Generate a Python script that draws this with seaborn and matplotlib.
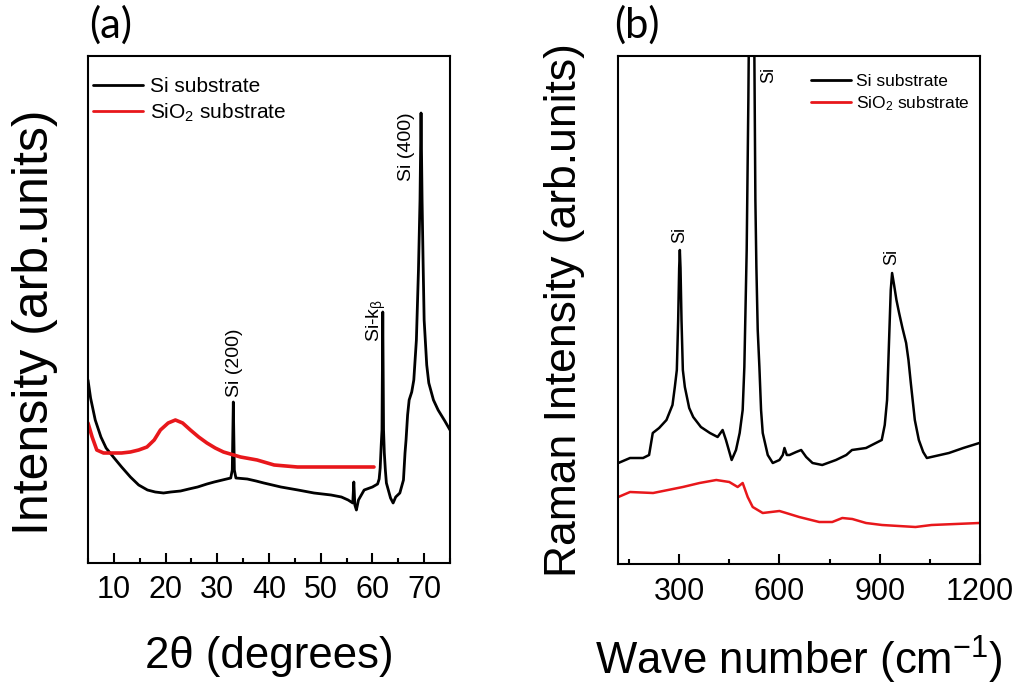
import numpy as np
import pandas as pd
import matplotlib
matplotlib.use("Agg")
import matplotlib.pyplot as plt
from matplotlib.ticker import MultipleLocator
import seaborn as sns

# ---------------- data (arbitrary intensity units) ----------------
# (a) XRD, Si substrate
xrd_si_2theta = [5.0, 5.5, 6.4, 7.5, 8.5, 9.9, 11.5, 13.2, 14.8, 16.5, 18.0, 19.6, 21.0, 22.9,
                 24.5, 26.2, 28.0, 29.4, 31.0, 32.6, 32.9, 33.1, 33.3, 33.6, 35.8, 37.5, 39.0,
                 42.3, 45.6, 48.7, 52.0, 54.0, 55.3, 56.2, 56.4, 56.6, 56.9, 57.3, 58.4, 60.0,
                 61.0, 61.3, 61.5, 61.7, 61.85, 62.0, 62.15, 62.3, 62.5, 62.7, 63.5, 64.0, 64.5,
                 65.3, 66.0, 66.3, 66.5, 66.8, 67.1, 67.6, 68.0, 68.5, 68.9, 69.2, 69.4, 69.6,
                 69.8, 70.0, 70.5, 70.9, 71.8, 72.7, 74.0, 75.0]
xrd_si_int = [183, 165, 143, 126, 115, 106, 96, 86, 78, 73, 71, 70, 71, 72,
              74, 76, 79, 81, 83, 85, 93, 161, 93, 85, 84, 82, 80,
              76, 73, 70, 68, 66, 63, 60, 81, 58, 53, 63, 73, 76,
              79, 84, 95, 118, 133, 251, 133, 110, 93, 80, 65, 60, 66,
              70, 83, 110, 123, 148, 163, 171, 183, 223, 293, 363, 450, 363,
              300, 243, 198, 180, 163, 153, 142, 133]

# (a) XRD, SiO2 substrate
xrd_sio2_2theta = [5.0, 5.8, 6.7, 8.0, 9.9, 11.5, 13.2, 14.8, 16.4, 17.8, 19.0, 20.5, 21.9,
                   23.3, 24.8, 26.4, 28.0, 29.6, 31.2, 34.5, 37.7, 41.0, 45.5, 52.0, 56.0, 60.3]
xrd_sio2_int = [140, 126, 113, 110, 110, 110, 111, 113, 116, 123, 133, 140, 143,
                140, 133, 126, 120, 115, 111, 106, 103, 98, 96, 96, 96, 96]

# (b) Raman, Si substrate
raman_si_wn = [118, 153, 192, 210, 221, 240, 262, 280, 287, 293, 297, 300, 302, 304, 307, 311,
               317, 330, 342, 365, 392, 415, 430, 440, 457, 470, 481, 490, 495, 502, 507, 512,
               516, 522, 525, 528, 531, 535, 540, 545, 550, 565, 580, 600, 610, 615, 622, 630,
               650, 665, 680, 699, 728, 769, 800, 817, 859, 906, 915, 922, 928, 933, 937, 943,
               950, 958, 968, 979, 986, 993, 1005, 1017, 1030, 1041, 1107, 1150, 1198]
raman_si_int = [101, 106, 106, 109, 131, 136, 144, 159, 177, 194, 244, 296, 314, 296, 244, 194,
                177, 156, 147, 137, 131, 127, 134, 124, 104, 114, 131, 154, 197, 314, 464, 664,
                864, 664, 508, 364, 297, 234, 197, 154, 131, 109, 101, 104, 109, 116, 109, 109,
                112, 114, 107, 101, 99, 104, 109, 114, 116, 124, 139, 164, 224, 274, 291, 279,
                264, 251, 236, 221, 204, 181, 144, 124, 112, 106, 111, 116, 121]

# (b) Raman, SiO2 substrate
raman_sio2_wn = [118, 153, 222, 311, 361, 411, 450, 475, 490, 505, 520, 550, 600, 620, 659,
                 719, 758, 788, 818, 859, 907, 1007, 1055, 1198]
raman_sio2_int = [67, 72, 71, 77, 81, 84, 82, 77, 81, 67, 57, 51, 53, 51, 47,
                  42, 42, 46, 45, 41, 39, 37, 39, 41]

series_names = ["Si substrate", "SiO$_2$ substrate"]
series_colors = ["#000000", "#e8171b"]

xrd_ticks = [10, 20, 30, 40, 50, 60, 70]
raman_ticks = [300, 600, 900, 1200]

# ---------------- style ----------------
sns.set_theme(style="white")
plt.rcParams["font.family"] = ["Liberation Sans", "DejaVu Sans"]
plt.rcParams["mathtext.fontset"] = "custom"
plt.rcParams["mathtext.rm"] = "Liberation Sans"
plt.rcParams["mathtext.it"] = "Liberation Sans:italic"
plt.rcParams["mathtext.bf"] = "Liberation Sans:bold"
plt.rcParams["axes.edgecolor"] = "black"
plt.rcParams["axes.linewidth"] = 1.5
plt.rcParams["text.color"] = "black"
plt.rcParams["axes.labelcolor"] = "black"
plt.rcParams["xtick.color"] = "black"
plt.rcParams["ytick.color"] = "black"
plt.rcParams["legend.labelcolor"] = "black"

fig = plt.figure(figsize=(10.23, 6.85), dpi=100)
ax1 = fig.add_axes([88 / 1023, 1 - 563 / 685, (450 - 88) / 1023, (563 - 56) / 685])
ax2 = fig.add_axes([618 / 1023, 1 - 564 / 685, (980 - 618) / 1023, (564 - 56) / 685])

df_a1 = pd.DataFrame({"x": xrd_si_2theta, "y": xrd_si_int, "s": series_names[0]})
df_a2 = pd.DataFrame({"x": xrd_sio2_2theta, "y": xrd_sio2_int, "s": series_names[1]})
df_b1 = pd.DataFrame({"x": raman_si_wn, "y": raman_si_int, "s": series_names[0]})
df_b2 = pd.DataFrame({"x": raman_sio2_wn, "y": raman_sio2_int, "s": series_names[1]})

sns.lineplot(data=df_a1, x="x", y="y", ax=ax1, color=series_colors[0], lw=2.0,
             sort=False, estimator=None, label=series_names[0])
sns.lineplot(data=df_a2, x="x", y="y", ax=ax1, color=series_colors[1], lw=2.6,
             sort=False, estimator=None, label=series_names[1])
sns.lineplot(data=df_b1, x="x", y="y", ax=ax2, color=series_colors[0], lw=1.8,
             sort=False, estimator=None, label=series_names[0])
sns.lineplot(data=df_b2, x="x", y="y", ax=ax2, color=series_colors[1], lw=1.8,
             sort=False, estimator=None, label=series_names[1])

ax1.set_xlim(5, 75)
ax1.set_ylim(0, 507)
ax2.set_xlim(117, 1200)
ax2.set_ylim(0, 508)

for ax, ticks, minor in [(ax1, xrd_ticks, 5), (ax2, raman_ticks, 150)]:
    ax.set_xticks(ticks)
    ax.xaxis.set_minor_locator(MultipleLocator(minor))
    ax.set_yticks([])
    ax.tick_params(axis="x", which="major", direction="in", length=7, width=1.5,
                   labelsize=22, pad=9, bottom=True, top=False, colors="black")
    ax.tick_params(axis="x", which="minor", direction="in", length=3.5, width=1.5,
                   bottom=True, top=False, colors="black")
    for sp in ax.spines.values():
        sp.set_visible(True)
        sp.set_color("black")
        sp.set_linewidth(1.5)

ax1.set_xlabel("2θ (degrees)", fontsize=31.5, labelpad=22)
ax1.set_ylabel("Intensity (arb.units)", fontsize=36, labelpad=20)
ax1.yaxis.set_label_coords(-0.082, 0.475)
ax2.set_xlabel("Wave number (cm$^{-1}$)", fontsize=31.5, labelpad=20)
ax2.set_ylabel("Raman Intensity (arb.units)", fontsize=32, labelpad=24)

leg1 = ax1.legend(loc="upper left", bbox_to_anchor=(-0.02, 0.983), frameon=False, fontsize=15,
                  handlelength=2.4, handletextpad=0.3, labelspacing=0.25, borderaxespad=0.2)
leg2 = ax2.legend(loc="upper right", bbox_to_anchor=(1.0, 0.985), frameon=False, fontsize=12.5,
                  handlelength=2.3, handletextpad=0.25, labelspacing=0.3, borderaxespad=0.2)
for leg in (leg1, leg2):
    for h in leg.get_lines():
        h.set_linewidth(2)

# peak annotations
ax1.text(33.3, 166, "Si (200)", rotation=90, ha="center", va="bottom", fontsize=14)
ax1.text(66.5, 451, "Si (400)", rotation=90, ha="center", va="top", fontsize=14)
ax1.text(63.0, 221, "Si-k$_{\\mathrm{β}}$", rotation=90, ha="right", va="bottom", fontsize=14)
ax2.text(302, 321, "Si", rotation=90, ha="center", va="bottom", fontsize=13)
ax2.text(937, 299, "Si", rotation=90, ha="center", va="bottom", fontsize=13)
ax2.text(568, 489, "Si", rotation=90, ha="center", va="center", fontsize=13)

fig.text(89 / 1023, 1 - 45 / 685, "(a)", fontsize=30, family=["Lato", "DejaVu Sans"], va="bottom")
fig.text(614 / 1023, 1 - 45 / 685, "(b)", fontsize=30, family=["Lato", "DejaVu Sans"], va="bottom")

fig.savefig("out.png", dpi=100)
